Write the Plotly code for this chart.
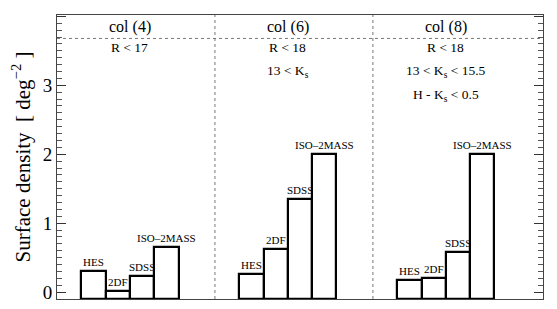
import plotly.graph_objects as go

# ---- data ----
surveys = ["HES", "2DF", "SDSS", "ISO–2MASS"]
col4 = [0.30, 0.02, 0.24, 0.65]
col6 = [0.26, 0.62, 1.35, 2.00]
col8 = [0.18, 0.20, 0.58, 2.00]
panel_titles = ["col (4)", "col (6)", "col (8)"]
panel_conditions = [
    ["R < 17"],
    ["R < 18", "13 < K<sub>s</sub>"],
    ["R < 18", "13 < K<sub>s</sub> < 15.5", "H - K<sub>s</sub> < 0.5"],
]
y_ticks = [0, 1, 2, 3, 4]

# ---- layout constants ----
FONT = "Liberation Serif, serif"
panel_start = [1.0, 7.5, 14.0]
dividers = [6.5, 13.0]
header_line = 3.68
y_min, y_max = -0.1, 4.02
x_min, x_max = 0, 20

fig = go.Figure()
ann = []
for p, vals in enumerate([col4, col6, col8]):
    xs = [panel_start[p] + 0.5 + i for i in range(len(vals))]
    fig.add_trace(go.Bar(
        x=xs, y=[v - y_min for v in vals], base=y_min, width=1.0,
        marker=dict(color="white", line=dict(color="black", width=2.2)),
        showlegend=False, hoverinfo="skip",
    ))
    for x, v, s in zip(xs, vals, surveys):
        ann.append(dict(x=x, y=v, xref="x", yref="y", text=s, showarrow=False,
                        yanchor="bottom", yshift=1,
                        font=dict(family=FONT, size=11, color="black")))
    cx = panel_start[p] + 2
    ann.append(dict(x=cx, y=0.958, xref="x", yref="paper", text=panel_titles[p],
                    showarrow=False, yanchor="middle",
                    font=dict(family=FONT, size=16, color="black")))
    for k, c in enumerate(panel_conditions[p]):
        ann.append(dict(x=cx, y=[0.885, 0.8, 0.715][k], xref="x", yref="paper",
                        text=c, showarrow=False, yanchor="middle",
                        font=dict(family=FONT, size=13.5, color="black")))

shapes = [dict(type="line", xref="paper", yref="y", x0=0, x1=1,
               y0=header_line, y1=header_line,
               line=dict(color="#777", width=1, dash="dot"))]
for d in dividers:
    shapes.append(dict(type="line", xref="x", yref="paper", x0=d, x1=d, y0=0, y1=1,
                       line=dict(color="#777", width=1, dash="dot")))

# page body has an 8px margin, so the figure is sized to fill the rest
fig.update_layout(
    width=549, height=301,
    margin=dict(l=49, r=14, t=7, b=10, autoexpand=False),
    paper_bgcolor="white", plot_bgcolor="white",
    bargap=0, annotations=ann, shapes=shapes,
    font=dict(family=FONT, color="black"),
    xaxis=dict(range=[x_min, x_max], showticklabels=False, ticks="",
               showgrid=False, zeroline=False, showline=True, mirror=True,
               linecolor="#444", linewidth=1, automargin=False),
    yaxis=dict(range=[y_min, y_max], tickvals=y_ticks, ticks="inside",
               ticklen=9, tickcolor="#333", tickwidth=1, automargin=False,
               minor=dict(dtick=0.1, ticks="inside", ticklen=5, tickcolor="#555"),
               showgrid=False, zeroline=False, showline=True, mirror="allticks",
               linecolor="#444", linewidth=1,
               tickfont=dict(family=FONT, size=19, color="black"),
               title=dict(text="Surface density  [ deg<sup>−2</sup> ]",
                          font=dict(family=FONT, size=21, color="black"),
                          standoff=13)),
)

fig.write_html("out.html")
